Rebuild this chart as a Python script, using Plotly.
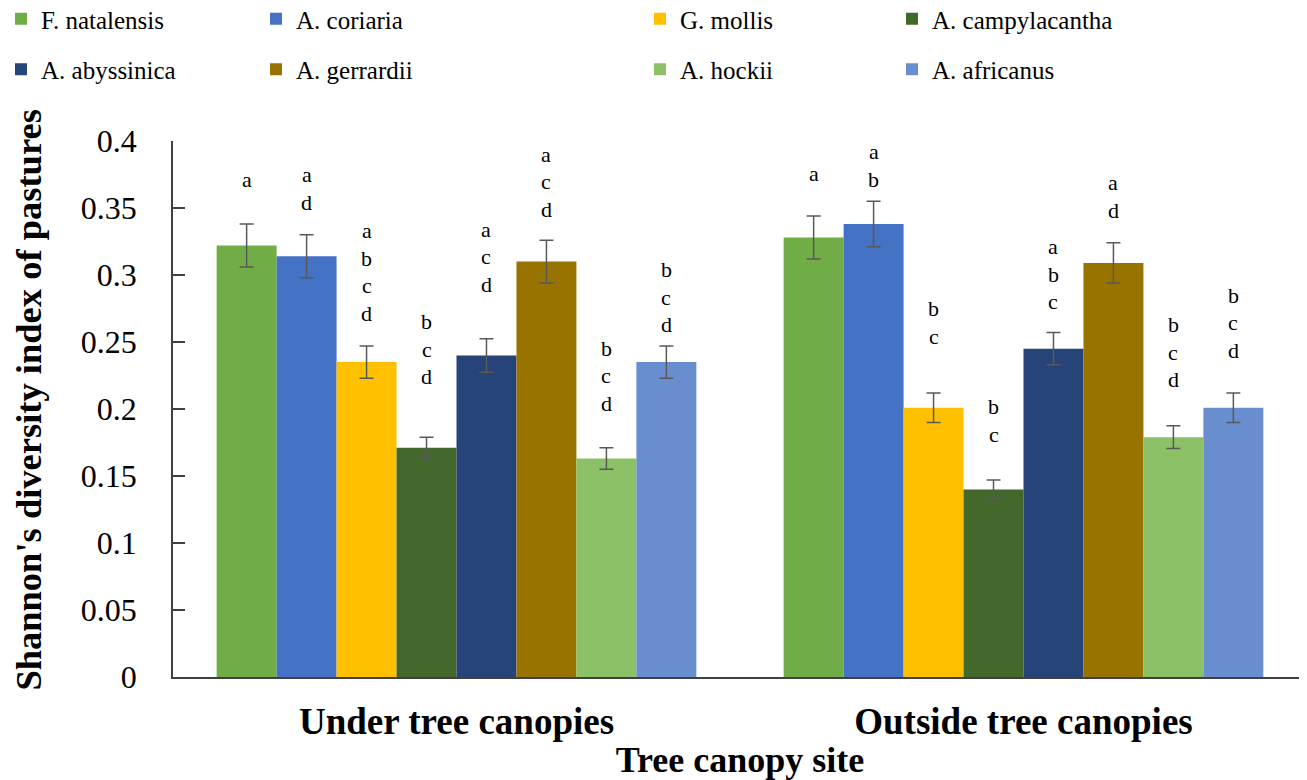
import plotly.graph_objects as go

sites = ["Under tree canopies", "Outside tree canopies"]
species = ["F. natalensis", "A. coriaria", "G. mollis", "A. campylacantha",
           "A. abyssinica", "A. gerrardii", "A. hockii", "A. africanus"]
colors = ["#70AD47", "#4472C4", "#FFC000", "#43682B",
          "#264478", "#997300", "#8CC168", "#698ED0"]

# values[species][site]
values = [
    [0.322, 0.328],
    [0.314, 0.338],
    [0.235, 0.201],
    [0.171, 0.140],
    [0.240, 0.245],
    [0.310, 0.309],
    [0.163, 0.179],
    [0.235, 0.201],
]
errors = [
    [0.016, 0.016],
    [0.016, 0.017],
    [0.012, 0.011],
    [0.008, 0.007],
    [0.0125, 0.012],
    [0.016, 0.015],
    [0.008, 0.0085],
    [0.012, 0.011],
]
letters = [
    ["a", "a"],
    ["ad", "ab"],
    ["abcd", "bc"],
    ["bcd", "bc"],
    ["acd", "abc"],
    ["acd", "ad"],
    ["bcd", "bcd"],
    ["bcd", "bcd"],
]
# height (data units) of the top letter of each label stack
letter_top = [
    [0.371, 0.376],
    [0.375, 0.392],
    [0.333, 0.275],
    [0.265, 0.2015],
    [0.334, 0.321],
    [0.390, 0.369],
    [0.2455, 0.263],
    [0.304, 0.285],
]

FONT = "Liberation Serif"
bargap = 0.154
n = len(species)

# page has an 8px body margin: figure is drawn 8px right/down of page origin
OFF = 8
FIG_W, FIG_H = 1307 - OFF, 780 - OFF
plot_left = 173 - OFF
plot_top = 141 - OFF
plot_bottom = 677 - OFF
plot_w = FIG_W - plot_left
plot_h = plot_bottom - plot_top

# legend layout: 4 columns, 2 rows
legend_cols = [0, 1, 2, 3, 0, 1, 2, 3]
text_px = [42, 297, 681, 933]   # page x where legend text should start

fig = go.Figure()
for i, sp in enumerate(species):
    col = legend_cols[i]
    lname = "legend" if col == 0 else f"legend{col + 1}"
    fig.add_trace(go.Bar(
        name=sp, x=sites, y=values[i],
        marker=dict(color=colors[i], line=dict(width=0)),
        error_y=dict(type="data", array=errors[i], visible=True,
                     color="#595959", thickness=1.5, width=7),
        legend=lname, legendgroup=sp,
    ))

annotations = []
slot = (1 - bargap) / n
for i in range(n):
    for g in range(len(sites)):
        xc = g - (1 - bargap) / 2 + (i + 0.5) * slot
        for k, ch in enumerate(letters[i][g]):
            annotations.append(dict(
                x=xc, y=letter_top[i][g], xref="x", yref="y",
                text=ch, showarrow=False, yshift=-27.5 * k,
                font=dict(family=FONT, size=22, color="black"),
            ))

legend_top_fig = 21 - 25 - OFF   # first row centre at page y≈21
layout_legends = {}
for c in range(4):
    key = "legend" if c == 0 else f"legend{c + 1}"
    left_fig = text_px[c] - 41 - OFF
    layout_legends[key] = dict(
        x=(left_fig - plot_left) / plot_w, xanchor="left",
        y=1 + (plot_top - legend_top_fig) / plot_h, yanchor="top",
        orientation="v", bgcolor="rgba(0,0,0,0)",
        font=dict(family=FONT, size=25, color="black"),
        tracegroupgap=15, itemwidth=30,
    )

fig.update_layout(
    width=FIG_W, height=FIG_H,
    margin=dict(l=plot_left, r=0, t=plot_top, b=FIG_H - plot_bottom,
                autoexpand=False),
    paper_bgcolor="white", plot_bgcolor="white",
    barmode="group", bargap=bargap, bargroupgap=0,
    showlegend=True,
    annotations=annotations,
    font=dict(family=FONT, color="black"),
    xaxis=dict(
        range=[-0.5, 1.5], showline=True, linecolor="#404040", linewidth=1.5,
        ticks="", ticklabelstandoff=11,
        tickfont=dict(family=FONT, size=37, color="black", weight="bold"),
        title=dict(text="<b>Tree canopy site</b>", standoff=2,
                   font=dict(family=FONT, size=36, color="black")),
    ),
    yaxis=dict(
        range=[0, 0.4], dtick=0.05, tick0=0, showgrid=False, zeroline=False,
        showline=True, linecolor="#404040", linewidth=1.5,
        ticks="inside", ticklen=12, tickcolor="#404040", tickwidth=1.5,
        ticklabelstandoff=28,
        tickfont=dict(family=FONT, size=32, color="black"),
        title=dict(text="&nbsp;&nbsp;<b>Shannon's diversity index of pastures</b>",
                   standoff=34,
                   font=dict(family=FONT, size=36.5, color="black")),
    ),
    **layout_legends,
)

fig.write_html("out.html")
